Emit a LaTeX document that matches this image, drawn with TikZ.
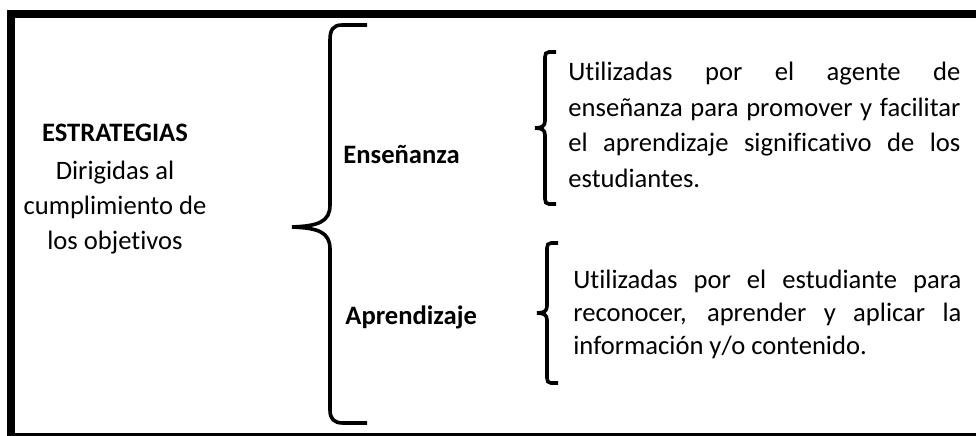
\documentclass[tikz,border=0pt]{standalone}
\usepackage{fontspec}
\setmainfont{Carlito}[Ligatures={NoCommon}]
\tikzset{
  llave/.style={line width=1.8pt},
  rotulo/.style={font=\fontsize{13.3}{17.5}\selectfont\bfseries, inner sep=0pt, anchor=west},
  parrafo/.style={font=\fontsize{13.3}{17.8}\selectfont, inner sep=0pt, anchor=west,
    text width=196pt, align=justify}
}
\begin{document}
\begin{tikzpicture}[x=0.5pt,y=-0.5pt]
\useasboundingbox (0,0) rectangle (976,435);
% marco
\draw [line width=4pt] (11,13.5) rectangle (990,436.5);

% texto de la izquierda
\node [font=\fontsize{13.3}{17.5}\selectfont, align=center, inner sep=0pt] (estrategias) at (115,189)
  {\textbf{ESTRATEGIAS}\\[1.5pt] Dirigidas al\\ cumplimiento de\\ los objetivos};

% llave grande
\draw [llave] (367,25) -- (342,25) .. controls (333,25) and (330,30) .. (330,40)
  -- (330,205) .. controls (330,222) and (318,226) .. (292,227)
  .. controls (318,228) and (330,232) .. (330,249)
  -- (330,410) .. controls (330,419) and (334,423) .. (343,423) -- (367,423);

\node [rotulo] (ensenanza) at (343,155) {Enseñanza};
\node [rotulo] (aprendizaje) at (345,317) {Aprendizaje};

% llaves chicas
\draw [llave] (556,52) -- (549,52) .. controls (546,52) and (545,54) .. (545,57)
  -- (545,121) .. controls (545,126) and (542,128) .. (535,128)
  .. controls (542,128) and (545,130) .. (545,135)
  -- (545,199) .. controls (545,202) and (546,204) .. (549,204) -- (556,204);
\draw [llave] (558,243) -- (551,243) .. controls (548,243) and (547,245) .. (547,248)
  -- (547,306) .. controls (547,311) and (544,313) .. (537,313)
  .. controls (544,313) and (547,315) .. (547,320)
  -- (547,378) .. controls (547,381) and (548,383) .. (551,383) -- (558,383);

\node [parrafo] (textoEns) at (568,125)
  {\tolerance=10000 \hyphenpenalty=10000 Utilizadas por el agente de\linebreak
   enseñanza para promover y facilitar\linebreak
   el aprendizaje significativo de los\linebreak estudiantes.};
\node [parrafo, text width=194pt, font=\fontsize{13.3}{16.5}\selectfont] (textoApr) at (573,314)
  {\tolerance=10000 \hyphenpenalty=10000 Utilizadas por el estudiante para\linebreak
   reconocer, aprender y aplicar la\linebreak información y/o contenido.};
\end{tikzpicture}
\end{document}
